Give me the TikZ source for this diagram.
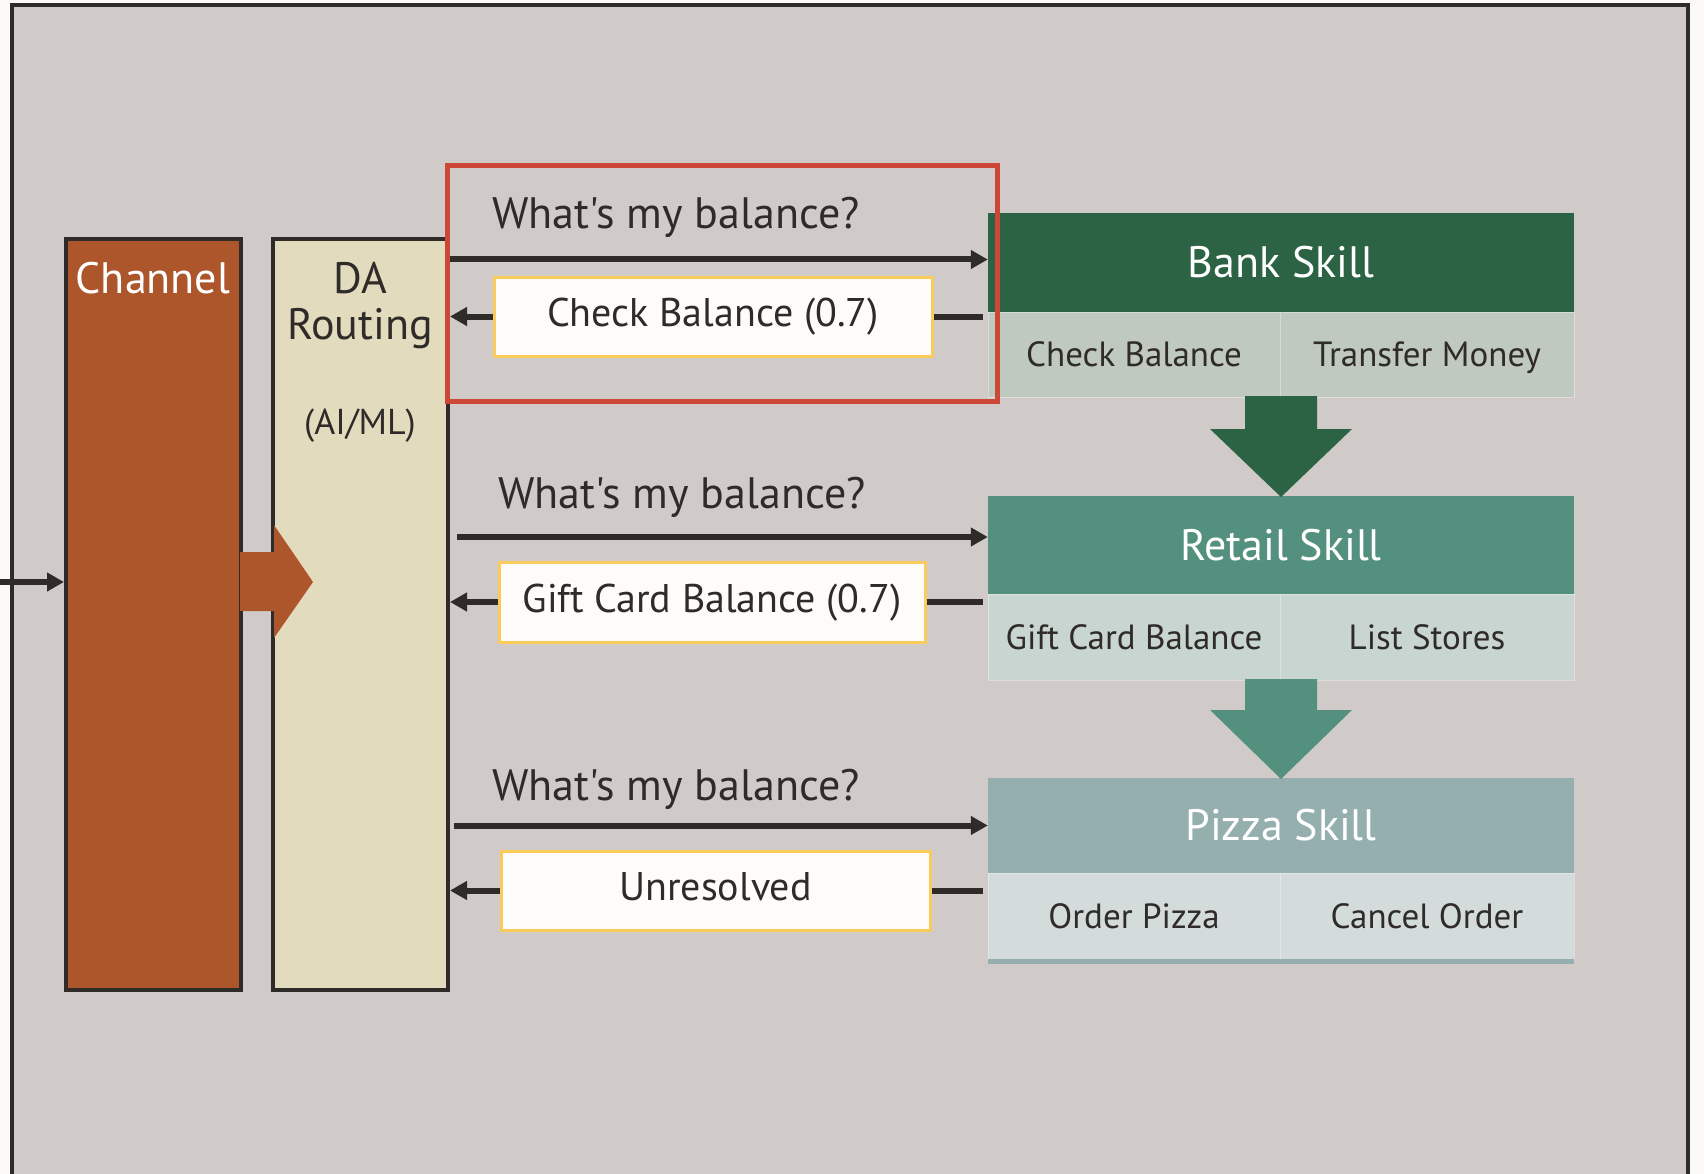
\documentclass[tikz,border=0pt]{standalone}
\usepackage{fontspec}
\setmainfont{PT Sans}[Ligatures=TeXOff]
\usetikzlibrary{arrows.meta}
\usetikzlibrary{positioning}

\definecolor{pagewhite}{HTML}{FBFAF8}
\definecolor{bggray}{HTML}{D0CBC8}
\definecolor{linedark}{HTML}{2E2B28}
\definecolor{channelbrown}{HTML}{AE562B}
\definecolor{routingcream}{HTML}{E3DBBE}
\definecolor{bankdark}{HTML}{2B6344}
\definecolor{banklight}{HTML}{C0C9C0}
\definecolor{retaildark}{HTML}{53917E}
\definecolor{retaillight}{HTML}{C8D5D0}
\definecolor{pizzadark}{HTML}{95AFAF}
\definecolor{pizzalight}{HTML}{D3DCDB}
\definecolor{focusred}{HTML}{CC4735}
\definecolor{replyyellow}{HTML}{F9CB5B}
\definecolor{replywhite}{HTML}{FDFCFA}

\tikzset{
  bigtext/.style={font=\fontsize{44}{48}\selectfont},
  midtext/.style={font=\fontsize{40}{44}\selectfont},
  celltext/.style={font=\fontsize{35}{40}\selectfont, text=linedark, text depth=0pt},
  column/.style={draw=linedark, line width=4pt, minimum width=175pt, minimum height=751pt, inner sep=0pt},
  skillhead/.style={bigtext, text=white, minimum width=586pt, inner sep=0pt},
  skillcell/.style={celltext, draw=white, draw opacity=0.35, line width=1pt, inner sep=0pt},
  reply/.style={midtext, text=linedark, text height=30pt, text depth=10pt, draw=replyyellow, fill=replywhite, line width=3pt, inner sep=0pt},
  query/.style={bigtext, text=linedark, text depth=0pt},
  flow/.style={draw=linedark, line width=6pt, -{Triangle[length=17pt, width=18pt]}},
  wire/.style={draw=linedark, line width=6pt}
}

\begin{document}
\begin{tikzpicture}[x=1pt, y=-1pt]
    \useasboundingbox (0,0) rectangle (1704,1174);
    \fill[pagewhite] (0,0) rectangle (1704,1174);
    \begin{scope}
        \clip (0,0) rectangle (1704,1174);
        \draw[linedark, fill=bggray, line width=4.5pt] (12,5) rectangle (1688,1200);
    \end{scope}

    % channel and routing columns
    \node[column, fill=channelbrown] (channel) at (153.5, 614.5) {};
    \node[column, fill=routingcream] (routing) at (360.5, 614.5) {};
    \fill[channelbrown] (240,552) -- (274,552) -- (274,525) -- (313,582) -- (274,638) -- (274,611) -- (240,611) -- cycle;

    \node[bigtext, text=white] (channellabel) at (153, 278) {Channel};
    \node[bigtext, text=linedark] (routinglabel) at (360, 278) {DA};
    \node[bigtext, text=linedark, text depth=0pt] (routinglabel2) at (360, 324) {Routing};
    \node[font=\fontsize{36}{40}\selectfont, text=linedark, text depth=0pt] (routinglabel3) at (360, 422) {(AI/ML)};

    \coordinate (feed) at (0, 582);
    \path[flow] (feed) -- (feed -| channel.west);

    % skills
    \node[skillhead, fill=bankdark, minimum height=99pt] (bank) at (1281, 262.5) {Bank Skill};
    \node[skillcell, fill=banklight, minimum width=292pt, minimum height=85pt] (bankA) at (1134, 354.5) {Check Balance};
    \node[skillcell, fill=banklight, minimum width=294pt, minimum height=85pt] (bankB) at (1427, 354.5) {Transfer Money};

    \node[skillhead, fill=retaildark, minimum height=98pt] (retail) at (1281, 545) {Retail Skill};
    \node[skillcell, fill=retaillight, minimum width=292pt, minimum height=86pt] (retailA) at (1134, 637) {Gift Card Balance};
    \node[skillcell, fill=retaillight, minimum width=294pt, minimum height=86pt] (retailB) at (1427, 637) {List Stores};

    \node[skillhead, fill=pizzadark, minimum height=95pt] (pizza) at (1281, 825.5) {Pizza Skill};
    \node[skillcell, fill=pizzalight, minimum width=292pt, minimum height=87pt] (pizzaA) at (1134, 916.5) {Order Pizza};
    \node[skillcell, fill=pizzalight, minimum width=294pt, minimum height=87pt] (pizzaB) at (1427, 916.5) {Cancel Order};
    \fill[pizzadark] (988,959) rectangle (1574,964);

    % fall-through arrows
    \fill[bankdark] (1245,396) -- (1317,396) -- (1317,429) -- (1352,429) -- (1281,497) -- (1210,429) -- (1245,429) -- cycle;
    \fill[retaildark] (1245,679) -- (1317,679) -- (1317,710) -- (1352,710) -- (1281,779) -- (1210,710) -- (1245,710) -- cycle;

    % requests and replies
    \node[query] (ask1) at (676, 213) {What's my balance?};
    \node[query] (ask2) at (682, 493) {What's my balance?};
    \node[query] (ask3) at (676, 785) {What's my balance?};

    \node[reply, minimum width=438pt, minimum height=79pt] (reply1) at (713, 316.5) {Check Balance (0.7)};
    \node[reply, minimum width=426pt, minimum height=80pt] (reply2) at (712, 602) {Gift Card Balance (0.7)};
    \node[reply, minimum width=429pt, minimum height=79pt] (reply3) at (715.5, 890.5) {Unresolved};

    \coordinate (bankin) at ([yshift=3pt]bank.west);
    \coordinate (retailin) at ([yshift=8pt]retail.west);
    \path[flow] (routing.east |- bankin) -- (bankin);
    \path[flow, shorten <=7pt] (routing.east |- retailin) -- (retailin);
    \path[flow, shorten <=4pt] (routing.east |- pizza.west) -- (pizza.west);

    \path[flow] (reply1.west) -- (reply1.west -| routing.east);
    \path[flow] (reply2.west) -- (reply2.west -| routing.east);
    \path[flow] (reply3.west) -- (reply3.west -| routing.east);
    \path[wire, shorten >=5pt] (reply1.east) -- (reply1.east -| bank.west);
    \path[wire, shorten >=5pt] (reply2.east) -- (reply2.east -| retail.west);
    \path[wire, shorten >=5pt] (reply3.east) -- (reply3.east -| pizza.west);

    % highlighted exchange
    \draw[focusred, line width=5pt] (447,166) rectangle (997,401);
\end{tikzpicture}
\end{document}
